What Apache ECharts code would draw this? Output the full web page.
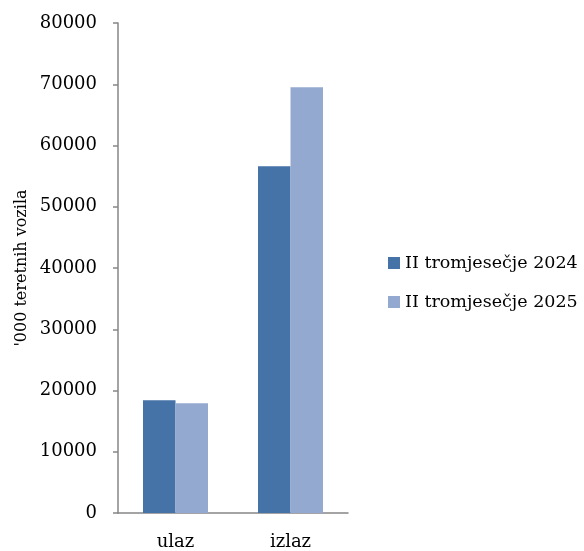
<!DOCTYPE html>
<html><head><meta charset="utf-8">
<script src="https://cdn.jsdelivr.net/npm/echarts@6/dist/echarts.min.js"></script>
<style>html,body{margin:0;padding:0;background:#fff}#c{width:584px;height:551px}</style>
</head><body><div id="c"></div>
<script>
var categories = ['ulaz', 'izlaz'];
var seriesNames = ['II tromjesečje 2024', 'II tromjesečje 2025'];
var values2024 = [18400, 56600];
var values2025 = [17900, 69500];
var yTitle = "'000 teretnih vozila";

var font = 'DejaVu Serif';
var chart = echarts.init(document.getElementById('c'), null, {renderer: 'canvas'});
chart.setOption({
  animation: false,
  textStyle: {fontFamily: font},
  grid: {left: 118, right: 236, top: 23, bottom: 37, containLabel: false},
  legend: {
    orient: 'vertical', left: 383, top: 249, padding: 5,
    icon: 'rect',
    itemWidth: 12, itemHeight: 12, itemGap: 21,
    textStyle: {fontFamily: font, fontSize: 17.5, color: '#000'},
    data: seriesNames
  },
  xAxis: {
    type: 'category', data: categories,
    axisLine: {lineStyle: {color: '#868686', width: 1.5}},
    axisTick: {show: false},
    axisLabel: {color: '#000', fontSize: 18, fontFamily: font, margin: 20}
  },
  yAxis: {
    type: 'value', min: 0, max: 80000, interval: 10000,
    name: yTitle, nameLocation: 'middle', nameRotate: 90, nameGap: 88,
    nameTextStyle: {fontFamily: font, fontSize: 16, color: '#000'},
    axisLine: {show: true, lineStyle: {color: '#868686', width: 1.5}},
    axisTick: {show: true, length: 5, lineStyle: {color: '#868686', width: 1.5}},
    splitLine: {show: false},
    axisLabel: {color: '#000', fontSize: 18, fontFamily: font, margin: 21,
      formatter: function (v) { return String(v); }}
  },
  series: [
    {name: seriesNames[0], type: 'bar', data: values2024, barWidth: 32.5, barGap: '0%',
     itemStyle: {color: '#4572A7'}},
    {name: seriesNames[1], type: 'bar', data: values2025, barWidth: 32.5, barGap: '0%',
     itemStyle: {color: '#93A9CF'}}
  ]
});
</script></body></html>
